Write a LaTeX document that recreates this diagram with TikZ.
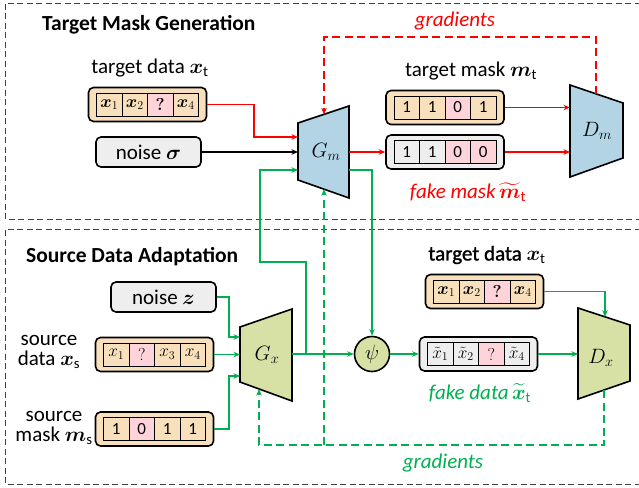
\documentclass[tikz,border=0pt]{standalone}
\usepackage{amsmath}
\usepackage{fontspec}
\setmainfont{Carlito}
\newfontfamily\semibf[FakeBold=1.2]{Carlito}
\usepackage{bm}
\usetikzlibrary{arrows.meta,calc}
\definecolor{tanf}{HTML}{F7E0BB}
\definecolor{pinkf}{HTML}{FFD3DA}
\definecolor{grayf}{HTML}{EEEEEE}
\definecolor{bluef}{HTML}{B2D4E4}
\definecolor{olivef}{HTML}{D7E1A6}
\definecolor{myred}{HTML}{FF0000}
\definecolor{mygreen}{HTML}{00B050}
\newcommand\mkcells[2]{%
  \foreach \f/\t [count=\i] in {#2} {
    \node[cell, fill=\f] (#1-\i) at ($(#1.center)+({-38.25+25.5*(\i-1)},0)$) {\t};
  }%
}
\begin{document}
\begin{tikzpicture}[x=1pt,y=-1pt,
  dbox/.style={draw, rounded corners=5pt, line width=1.6pt, minimum width=118pt, minimum height=34pt, inner sep=0pt},
  nbox/.style={draw, rounded corners=5pt, line width=1.6pt, fill=grayf, minimum width=105pt, minimum height=30pt, inner sep=0pt, font=\fontsize{21}{24}\selectfont},
  cell/.style={draw, line width=0.6pt, minimum width=25.5pt, minimum height=23pt, inner sep=0pt, font=\fontsize{17}{18}\selectfont},
  trap/.style={draw, line width=1.6pt, line join=miter},
  lbl/.style={inner sep=0pt, font=\fontsize{21}{24}\selectfont},
  ttl/.style={inner sep=0pt, font=\fontsize{21.5}{24}\selectfont\bfseries},
  ar/.style={-{Stealth[length=6.5pt,width=5.5pt]}, line width=1.5pt},
  rline/.style={ar, draw=myred, color=myred},
  gline/.style={ar, draw=mygreen, color=mygreen},
  gdash/.style={dash pattern=on 8pt off 4.5pt},
  frame/.style={draw=black!75, line width=0.8pt, dash pattern=on 6pt off 3.5pt}
]
\useasboundingbox (0,0) rectangle (639,487);
\clip (0,0) rectangle (639,487);

% frames
\draw[frame] (650,3) -- (5,3) -- (5,219) -- (650,219);
\draw[frame] (650,229) -- (5,229) -- (5,484) -- (650,484);

% titles
\node[ttl, anchor=west] (t1) at (42,25) {Target Mask Generation};
\node[ttl, anchor=west] (t2) at (26,257) {Source Data Adaptation};

% ---------- top section ----------
\node[lbl] (tdAl) at (150,68) {target data $\bm{x}_\mathrm{t}$};
\node[dbox, fill=tanf] (tdA) at (147.5,104.5) {};
\mkcells{tdA}{tanf/$\bm{x}_1$, tanf/$\bm{x}_2$, pinkf/$\bm{?}$, tanf/$\bm{x}_4$}
\node[nbox] (noiseS) at (148.5,152) {noise $\bm{\sigma}$};

\draw[trap, fill=bluef] (298,123) -- (349,106) -- (349,198) -- (298,180) -- cycle;
\node[lbl] (Gm) at (326,152) {$G_m$};
\coordinate (gmi1) at (298,137);
\coordinate (gmi2) at (298,152);
\coordinate (gmi3) at (298,170);
\coordinate (gmo1) at (349,152);
\coordinate (gmo2) at (349,170);
\coordinate (gmt) at (324,114.4);
\coordinate (gmb) at (324,189.2);

\node[lbl] (tml) at (471,71) {target mask $\bm{m}_\mathrm{t}$};
\node[dbox, fill=tanf] (tm) at (445,107.5) {};
\mkcells{tm}{tanf/1, tanf/1, pinkf/0, tanf/1}
\node[dbox, fill=grayf] (fm) at (445,152) {};
\mkcells{fm}{grayf/1, grayf/1, pinkf/0, pinkf/0}
\node[lbl, text=myred] (fml) at (468,192) {\itshape fake mask\,$\widetilde{\bm{m}}_\mathrm{t}$};

\draw[trap, fill=bluef] (570,85) -- (623,103) -- (623,158) -- (570,177) -- cycle;
\node[lbl] (Dm) at (597,131) {$D_m$};
\coordinate (dml) at (570,0);
\coordinate (dmt) at (596,93.8);

\node[lbl, text=myred] (g1) at (455,21) {\itshape gradients};

\draw[rline] (tdA.east) -- ++(46.5,0) |- (gmi1);
\draw[ar] (noiseS.east) -- (gmi2);
\draw[rline] (gmo1) -- (fm.west);
\draw[rline] (tm.east) -- (tm.east -| dml);
\draw[rline] (fm.east) -- (fm.east -| dml);
\draw[rline, gdash] (dmt) -- ++(0,-56.8) -| (gmt);

% ---------- bottom section ----------
\node[nbox] (nz) at (163.5,297) {noise $\bm{z}$};
\node[lbl, align=center] (sdl) at (49,352) {source\\[-4pt]data $\bm{x}_\mathrm{s}$};
\node[dbox, fill=tanf] (sd) at (154.5,354.5) {};
\mkcells{sd}{tanf/$x_1$, pinkf/$?$, tanf/$x_3$, tanf/$x_4$}
\node[lbl, align=center] (sml) at (54,428) {source\\[-4pt]mask $\bm{m}_\mathrm{s}$};
\node[dbox, fill=tanf] (sm) at (154.5,429) {};
\mkcells{sm}{tanf/1, pinkf/0, tanf/1, tanf/1}

\draw[trap, fill=olivef] (240,327) -- (292,309) -- (292,401) -- (240,382) -- cycle;
\node[lbl] (Gx) at (267,355) {$G_x$};
\coordinate (gxi1) at (240,337);
\coordinate (gxi2) at (240,354.5);
\coordinate (gxi3) at (240,376);
\coordinate (gxo) at (292,354);
\coordinate (gxb) at (259,389);

\node[draw, circle, line width=1.6pt, fill=olivef, minimum size=35pt, inner sep=0pt, font=\fontsize{21}{24}\selectfont] (psi) at (372,354) {$\psi$};

\node[lbl] (tdBl) at (487,255) {\semibf target data $\bm{x}_\mathrm{t}$};
\node[dbox, fill=tanf] (tdB) at (484.5,291.5) {};
\mkcells{tdB}{tanf/$\bm{x}_1$, tanf/$\bm{x}_2$, pinkf/$\bm{?}$, tanf/$\bm{x}_4$}
\node[dbox, fill=grayf] (fd) at (478.5,354) {};
\mkcells{fd}{grayf/$\tilde{x}_1$, grayf/$\tilde{x}_2$, pinkf/$?$, grayf/$\tilde{x}_4$}
\node[lbl, text=mygreen] (fdl) at (480,393) {\itshape fake data\,$\widetilde{\bm{x}}_\mathrm{t}$};

\draw[trap, fill=olivef] (578,308) -- (630,325) -- (630,381) -- (578,399) -- cycle;
\node[lbl] (Dx) at (601,358) {$D_x$};
\coordinate (dxl) at (578,0);
\coordinate (dxt) at (605,316.8);
\coordinate (dxb) at (604,390);
\coordinate (gj) at (324,445);

\node[lbl, text=mygreen] (g2) at (443,463) {\itshape gradients};

\draw[gline] (nz.east) -- ++(12,0) |- (gxi1);
\draw[gline] (sd.east) -- (gxi2);
\draw[gline] (sm.east) -- ++(14.5,0) |- (gxi3);
\draw[gline] (gxo) -- (psi.west);
\draw[gline] ($(gxo)+(14,0)$) -- ++(0,-92) -- ++(-46,0) |- (gmi3);
\draw[gline] (gmo2) -| (psi.north);
\draw[gline] (psi.east) -- (fd.west);
\draw[gline] (fd.east) -- (fd.east -| dxl);
\draw[gline] (tdB.east) -| (dxt);
\draw[gline, gdash] (dxb) -- ++(0,55) -| (gxb);
\draw[gline, gdash] (gj) -- (gmb);
\end{tikzpicture}
\end{document}
